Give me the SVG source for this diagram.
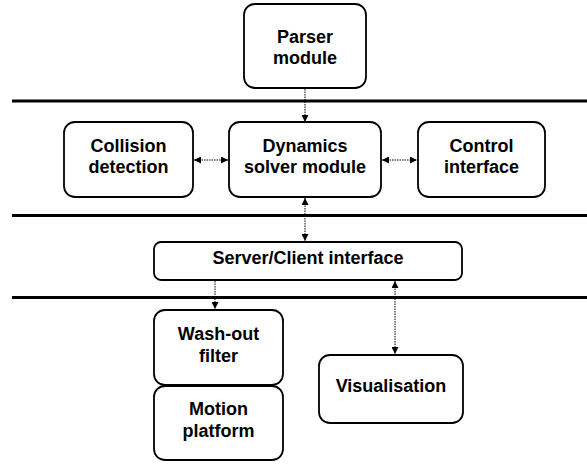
<svg xmlns="http://www.w3.org/2000/svg" width="587" height="464" viewBox="0 0 587 464">
<style>
.box{fill:#fff;stroke:#000;stroke-width:1.8}
.t{font-family:"Liberation Sans",Arial,sans-serif;font-weight:bold;font-size:18px;text-anchor:middle;fill:#000}
.sep{stroke:#000;stroke-width:3}
.c{stroke:#000;stroke-width:1;stroke-dasharray:1.5,1;fill:none}
</style>
<defs>
<marker id="ah" markerUnits="userSpaceOnUse" markerWidth="7" markerHeight="7" refX="7" refY="3.5" orient="auto-start-reverse">
<path d="M0,0 L7,3.5 L0,7 z" fill="#000"/>
</marker>
</defs>
<g id="separators">
<line class="sep" x1="12" y1="101" x2="587" y2="101"/>
<line class="sep" x1="12" y1="215.5" x2="587" y2="215.5"/>
<line class="sep" x1="12" y1="297.5" x2="587" y2="297.5"/>
</g>
<g id="parser">
<rect class="box" x="244" y="4" width="122" height="84" rx="11"/>
<text class="t" x="305" y="43">Parser</text>
<text class="t" x="305" y="64">module</text>
</g>
<g id="collision">
<rect class="box" x="64" y="122" width="129" height="75" rx="11"/>
<text class="t" x="128.5" y="152">Collision</text>
<text class="t" x="128.5" y="173">detection</text>
</g>
<g id="dynamics">
<rect class="box" x="229" y="122" width="152" height="75" rx="11"/>
<text class="t" x="305" y="152">Dynamics</text>
<text class="t" x="305" y="173">solver module</text>
</g>
<g id="control">
<rect class="box" x="418" y="122" width="127" height="75" rx="11"/>
<text class="t" x="481.5" y="152">Control</text>
<text class="t" x="481.5" y="173">interface</text>
</g>
<g id="server">
<rect class="box" x="154" y="242" width="308" height="38" rx="7"/>
<text class="t" x="308" y="264">Server/Client interface</text>
</g>
<g id="washout">
<rect class="box" x="154" y="310" width="129" height="75" rx="11"/>
<text class="t" x="218.5" y="340">Wash-out</text>
<text class="t" x="218.5" y="362">filter</text>
</g>
<g id="motion">
<rect class="box" x="154" y="386" width="129" height="74" rx="11"/>
<text class="t" x="218.5" y="415">Motion</text>
<text class="t" x="218.5" y="437">platform</text>
</g>
<g id="visualisation">
<rect class="box" x="319" y="355" width="144" height="68" rx="11"/>
<text class="t" x="391" y="392">Visualisation</text>
</g>
<g id="connectors">
<line class="c" x1="305" y1="89" x2="305" y2="122" marker-end="url(#ah)"/>
<line class="c" x1="194" y1="160" x2="228" y2="160" marker-start="url(#ah)" marker-end="url(#ah)"/>
<line class="c" x1="382" y1="160" x2="417" y2="160" marker-start="url(#ah)" marker-end="url(#ah)"/>
<line class="c" x1="305" y1="198" x2="305" y2="241" marker-start="url(#ah)" marker-end="url(#ah)"/>
<line class="c" x1="215" y1="281" x2="215" y2="309" marker-end="url(#ah)"/>
<line class="c" x1="395" y1="281" x2="395" y2="354" marker-start="url(#ah)" marker-end="url(#ah)"/>
</g>
</svg>
